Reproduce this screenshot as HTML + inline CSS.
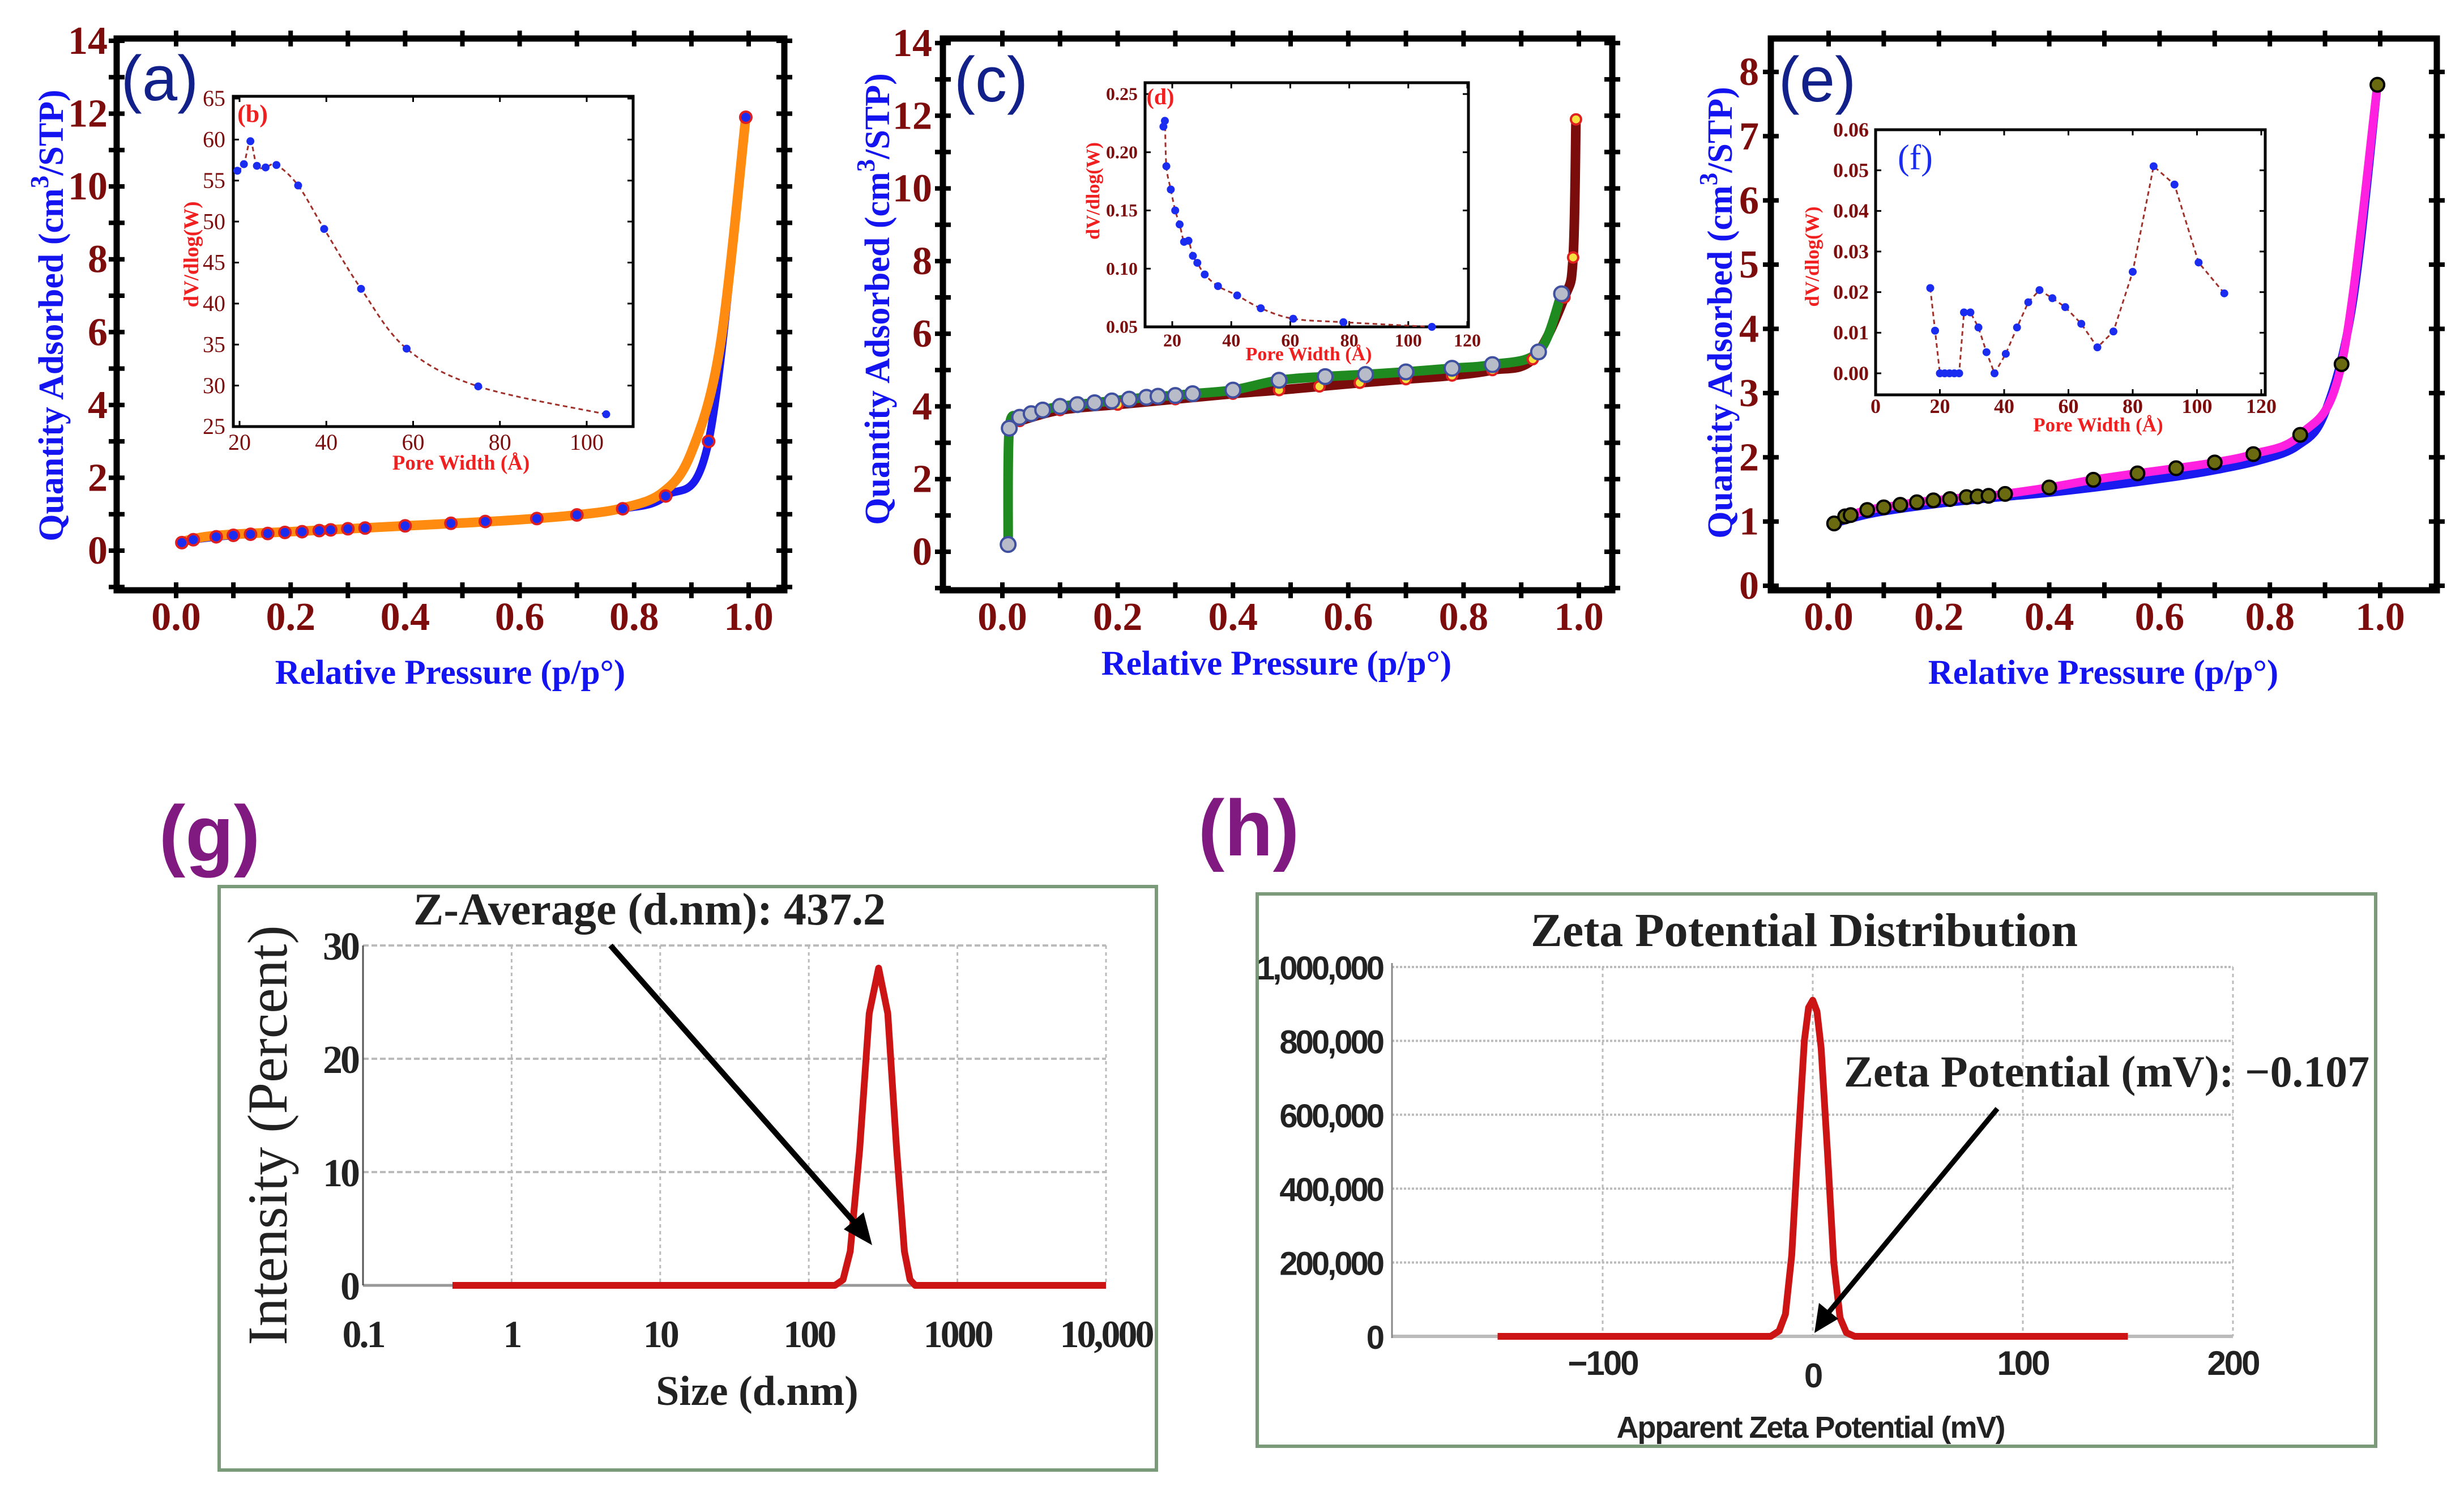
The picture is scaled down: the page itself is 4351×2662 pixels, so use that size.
<!DOCTYPE html>
<html><head><meta charset="utf-8">
<style>
html,body{margin:0;padding:0;background:#fff;}
svg{display:block;}
text{font-family:"Liberation Serif",serif;}
</style></head>
<body>
<svg id="fig" width="4351" height="2662" viewBox="0 0 4351 2662" xmlns="http://www.w3.org/2000/svg"></svg>
<script>
// ---------- DATA ----------
const aAdsX=[0.01,0.03,0.07,0.10,0.13,0.16,0.19,0.22,0.25,0.27,0.30,0.33,0.40,0.48,0.54,0.63,0.70,0.78,0.855,0.93,0.995];
const aAdsY=[0.22,0.30,0.38,0.42,0.45,0.47,0.50,0.52,0.55,0.57,0.60,0.62,0.68,0.75,0.80,0.88,0.98,1.15,1.50,3.00,11.9];
const aDesX=[0.01,0.05,0.10,0.20,0.30,0.40,0.50,0.60,0.70,0.78,0.85,0.90,0.95,0.995];
const aDesY=[0.25,0.38,0.45,0.52,0.60,0.68,0.76,0.85,0.98,1.17,1.60,2.70,5.60,11.9];
const bX=[19.5,21,22.5,24,26,28.5,33.5,39.5,48,58.5,75,104.5];
const bY=[56.2,57.0,59.8,56.8,56.6,56.9,54.4,49.1,41.8,34.5,29.9,26.5];
const cAdsX=[0.01,0.012,0.03,0.05,0.07,0.10,0.13,0.16,0.19,0.22,0.25,0.27,0.30,0.33,0.40,0.48,0.56,0.63,0.70,0.78,0.85,0.93,0.97];
const cAdsY=[0.2,3.4,3.7,3.8,3.9,4.0,4.05,4.1,4.15,4.2,4.25,4.28,4.3,4.35,4.45,4.72,4.82,4.88,4.95,5.05,5.15,5.5,7.1];
const cDesX=[0.03,0.10,0.20,0.30,0.40,0.48,0.55,0.62,0.70,0.78,0.85,0.92,0.975,0.99,0.995];
const cDesY=[3.6,3.9,4.05,4.2,4.35,4.45,4.55,4.65,4.75,4.85,5.0,5.3,7.0,8.1,11.9];
const dX=[17,17.5,18,19.5,21,22.5,24,25.5,27,28.5,31,35.5,42,50,61,78,108];
const dY=[0.222,0.227,0.188,0.168,0.150,0.138,0.123,0.124,0.111,0.105,0.095,0.085,0.077,0.066,0.057,0.054,0.050];
const eUpX=[0.01,0.03,0.04,0.07,0.10,0.13,0.16,0.19,0.22,0.25,0.27,0.29,0.32,0.40,0.48,0.56,0.63,0.70,0.77,0.855,0.93,0.995];
const eUpY=[0.97,1.08,1.10,1.18,1.22,1.26,1.30,1.33,1.35,1.38,1.39,1.40,1.43,1.53,1.65,1.75,1.83,1.92,2.05,2.35,3.45,7.8];
const eLoX=[0.01,0.05,0.10,0.20,0.30,0.40,0.50,0.63,0.70,0.78,0.85,0.90,0.95,0.995];
const eLoY=[0.97,1.07,1.16,1.28,1.37,1.45,1.55,1.70,1.80,1.95,2.18,2.70,4.40,7.8];
const fX=[17,18.5,20,21.5,23,24.5,26,27.5,29.5,32,34.5,37,40.5,44,47.5,51,55,59,64,69,74,80,86.5,93,100.5,108.5];
const fY=[0.021,0.0105,0,0,0,0,0,0.015,0.015,0.0113,0.0052,0,0.0048,0.0113,0.0175,0.0205,0.0185,0.0163,0.0122,0.0064,0.0103,0.025,0.051,0.0465,0.0273,0.0197];
const gSize=[0.4,150,170,190,220,255,295,340,390,440,480,520,10000];
const gInt=[0,0,0.5,3,12,24,28,24,12,3,0.5,0,0];
const gXTicks=["0.1","1","10","100","1000","10,000"];
const gYTicks=[0,10,20,30];
const hMV=[-150,-20,-16,-13,-10,-7,-4,-2,0,2,4,7,10,13,16,20,150];
const hCount=[0,0,15000,60000,220000,520000,800000,890000,910000,880000,780000,500000,200000,50000,10000,0,0];
const hXTicks=[-100,0,100,200];
const hYTicks=["0","200,000","400,000","600,000","800,000","1,000,000"];

// ---------- HELPERS ----------
const NS="http://www.w3.org/2000/svg";
const svg=document.getElementById('fig');
function el(tag,attrs,parent,txt){const e=document.createElementNS(NS,tag);for(const k in attrs)e.setAttribute(k,attrs[k]);if(txt!==undefined)e.textContent=txt;(parent||svg).appendChild(e);return e;}
function lin(d0,d1,r0,r1){return v=>r0+(v-d0)*(r1-r0)/(d1-d0);}
function smoothPath(pts){
  if(pts.length<2)return '';
  let d='M'+pts[0][0]+','+pts[0][1];
  for(let i=0;i<pts.length-1;i++){
    const p0=pts[i-1]||pts[i],p1=pts[i],p2=pts[i+1],p3=pts[i+2]||p2;
    const c1=[p1[0]+(p2[0]-p0[0])/6,p1[1]+(p2[1]-p0[1])/6];
    const c2=[p2[0]-(p3[0]-p1[0])/6,p2[1]-(p3[1]-p1[1])/6];
    d+=' C'+c1[0]+','+c1[1]+' '+c2[0]+','+c2[1]+' '+p2[0]+','+p2[1];
  }
  return d;
}
const DR='#7d0c0c', BL='#1414f0';

function mainPanel(o){
  const g=el('g',{});
  
  
  const sx=lin(0,1,o.x0,o.x1), sy=lin(0,o.yRef,o.y0,o.y1);
  for(let v=0;v<=1.0001;v+=0.1){const x=sx(v);
    el('line',{x1:x,y1:o.fb-14,x2:x,y2:o.fb+14,stroke:'#000','stroke-width':8},g);
    el('line',{x1:x,y1:o.ft-14,x2:x,y2:o.ft+14,stroke:'#000','stroke-width':8},g);}
  for(let v=0;v<=1.0001;v+=0.2){
    const t=el('text',{x:sx(v),y:1112,'text-anchor':'middle','font-size':70,'font-weight':'bold',fill:DR},g,v.toFixed(1));
    }
  for(let v=o.yMinTick;v<=o.yRef;v+=1){const y=sy(v);
    el('line',{x1:o.fl-14,y1:y,x2:o.fl+14,y2:y,stroke:'#000','stroke-width':8},g);
    el('line',{x1:o.fr-14,y1:y,x2:o.fr+14,y2:y,stroke:'#000','stroke-width':8},g);
    if(v>=0 && (v%o.yLabStep===0)){
      const t=el('text',{x:o.yLabX,y:y+23,'text-anchor':'end','font-size':70,'font-weight':'bold',fill:DR},g,String(v));
      }
  }
  const fr=el('rect',{x:o.fl,y:o.ft,width:o.fr-o.fl,height:o.fb-o.ft,fill:'none',stroke:'#000','stroke-width':11},g);
  
  o.series.forEach(s=>{
    const pts=s.x.map((v,i)=>[sx(v),sy(s.y[i])]);
    const p=el('path',{d:smoothPath(pts),fill:'none',stroke:s.color,'stroke-width':s.w,'stroke-linecap':'round','stroke-linejoin':'round'},g);
    
  });
  o.series.forEach(s=>{ if(!s.mk)return;
    s.x.forEach((v,i)=>{
      const c=el('circle',{cx:sx(v),cy:sy(s.y[i]),r:s.mr,fill:s.mk,stroke:s.ms,'stroke-width':4},g);
      });
  });
  const xt=el('text',{x:o.xtX,y:o.xtY+21,'text-anchor':'middle','font-size':61,'font-weight':'bold',fill:BL},g,'Relative Pressure (p/p°)');
  
  const yt=el('text',{x:0,y:0,'text-anchor':'middle','font-size':62,'font-weight':'bold',fill:BL,transform:`translate(${o.ytX+22},${o.ytY}) rotate(-90)`},g);
  
  el('tspan',{},yt,'Quantity Adsorbed (cm');
  el('tspan',{dy:-26,'font-size':45},yt,'3');
  el('tspan',{dy:26},yt,'/STP)');
  const pl=el('text',{x:o.lblX,y:o.lblY+40,'text-anchor':'middle','font-size':112,fill:'#12208a',style:'font-family:"Liberation Sans",sans-serif'},g,o.label);
  
}

function inset(o){
  const g=el('g',{});
  
  const sx=lin(o.xa,o.xb,o.px0,o.px1), sy=lin(o.ya,o.yb,o.py0,o.py1);
  el('rect',{x:o.fl,y:o.ft,width:o.fr-o.fl,height:o.fb-o.ft,fill:'#fff',stroke:'#000','stroke-width':5},g);
  o.xt.forEach(v=>{const x=sx(v);
    el('line',{x1:x,y1:o.fb,x2:x,y2:o.fb-10,stroke:'#000','stroke-width':3},g);
    el('line',{x1:x,y1:o.ft,x2:x,y2:o.ft+10,stroke:'#000','stroke-width':3},g);
    const t=el('text',{x:x,y:o.xlY+o.fs*0.33,'text-anchor':'middle','font-size':o.fs,'font-weight':o.fw,fill:DR},g,String(v));
    });
  o.yt.forEach(v=>{const y=sy(v);
    el('line',{x1:o.fl,y1:y,x2:o.fl+10,y2:y,stroke:'#000','stroke-width':3},g);
    el('line',{x1:o.fr,y1:y,x2:o.fr-10,y2:y,stroke:'#000','stroke-width':3},g);
    const t=el('text',{x:o.ylX,y:y+o.fs*0.33,'text-anchor':'end','font-size':o.fs,'font-weight':o.fw,fill:DR},g,v.toFixed(o.dec));
    });
  const pts=o.x.map((v,i)=>[sx(v),sy(o.y[i])]);
  const p=el('path',{d:o.smooth?smoothPath(pts):'M'+pts.map(q=>q.join(',')).join(' L'),fill:'none',stroke:'#a0302a','stroke-width':3,'stroke-dasharray':'8,6'},g);
  
  pts.forEach(q=>{const c=el('circle',{cx:q[0],cy:q[1],r:7,fill:'#1a2cf0'},g);
    });
  const xt=el('text',{x:o.xtX,y:o.xtY+o.tfs*0.33,'text-anchor':'middle','font-size':o.tfs,'font-weight':'bold',fill:'#f02020'},g,'Pore Width (Å)');
  
  const yt=el('text',{x:0,y:0,'text-anchor':'middle','font-size':o.tfs,'font-weight':'bold',fill:'#f02020',transform:`translate(${o.ytX+o.tfs*0.33},${o.ytY}) rotate(-90)`},g,'dV/dlog(W)');
  
  const lb=el('text',{x:o.lX,y:o.lY+o.lfs*0.35,'text-anchor':'middle','font-size':o.lfs,'font-weight':o.lfw,fill:o.lc},g,o.label);
  
}

// ---------- PANELS ----------
mainPanel({name:'panel-a',fl:206,fr:1385,ft:68,fb:1042,x0:311,x1:1322,y0:972,y1:72,yRef:14,yMinTick:-1,yLabStep:2,yLabX:190,
  xtX:795,xtY:1186,ytX:89,ytY:557,label:'(a)',lblX:282,lblY:137,
  series:[{name:'adsorption-curve',x:aAdsX,y:aAdsY,color:'#1a1af0',w:14,mk:'#1a2cf0',ms:'#e02020',mr:10},
          {name:'desorption-curve',x:aDesX,y:aDesY,color:'#ff8c10',w:17}]});
inset({name:'inset-b',fl:412,fr:1118,ft:170,fb:753,xa:20,xb:100,px0:423,px1:1036,ya:25,yb:65,py0:753,py1:174,
  xt:[20,40,60,80,100],yt:[25,30,35,40,45,50,55,60,65],dec:0,fs:40,fw:'normal',xlY:781,ylX:398,x:bX,y:bY,smooth:true,
  xtX:814,xtY:817,ytX:338,ytY:449,tfs:37,label:'(b)',lX:446,lY:200,lfs:44,lfw:'bold',lc:'#f02020'});

mainPanel({name:'panel-c',fl:1665,fr:2847,ft:68,fb:1042,x0:1770,x1:2788,y0:974,y1:76,yRef:14,yMinTick:-1,yLabStep:2,yLabX:1646,
  xtX:2254,xtY:1170,ytX:1548,ytY:528,label:'(c)',lblX:1750,lblY:139,
  series:[{name:'desorption-curve',x:cDesX,y:cDesY,color:'#7a0c0c',w:17,mk:'#f5e040',ms:'#e02020',mr:9},
          {name:'adsorption-curve',x:cAdsX,y:cAdsY,color:'#1f8a1f',w:17,mk:'#b8bcc8',ms:'#4050a0',mr:13}]});
inset({name:'inset-d',fl:2022,fr:2593,ft:146,fb:577,xa:20,xb:120,px0:2070,px1:2591,ya:0.05,yb:0.25,py0:577,py1:166,
  xt:[20,40,60,80,100,120],yt:[0.05,0.10,0.15,0.20,0.25],dec:2,fs:32,fw:'bold',xlY:601,ylX:2009,x:dX,y:dY,smooth:true,
  xtX:2311,xtY:625,ytX:1930,ytY:337,tfs:34,label:'(d)',lX:2049,lY:170,lfs:40,lfw:'bold',lc:'#f02020'});

mainPanel({name:'panel-e',fl:3127,fr:4303,ft:68,fb:1042,x0:3229,x1:4203,y0:1034,y1:127,yRef:8,yMinTick:0,yLabStep:1,yLabX:3106,
  xtX:3714,xtY:1186,ytX:3036,ytY:552,label:'(e)',lblX:3209,lblY:139,
  series:[{name:'lower-curve',x:eLoX,y:eLoY,color:'#1a1af0',w:15},
          {name:'upper-curve',x:eUpX,y:eUpY,color:'#ff20e0',w:15,mk:'#6a6a10',ms:'#000',mr:12}]});
inset({name:'inset-f',fl:3312,fr:4000,ft:229,fb:697,xa:0,xb:120,px0:3312,px1:3993,ya:0,yb:0.06,py0:659,py1:229,
  xt:[0,20,40,60,80,100,120],yt:[0,0.01,0.02,0.03,0.04,0.05,0.06],dec:2,fs:36,fw:'bold',xlY:717,ylX:3300,x:fX,y:fY,smooth:false,
  xtX:3705,xtY:750,ytX:3200,ytY:453,tfs:35,label:'(f)',lX:3382,lY:277,lfs:62,lfw:'normal',lc:'#1a2cf0'});

// ---------- (g) ----------
(function(){
  const g=el('g',{});
  
  const pl=el('text',{x:370,y:1520,'text-anchor':'middle','font-size':140,'font-weight':'bold',fill:'#801a80',style:'font-family:"Liberation Sans",sans-serif'},g,'(g)');
  
  const box=el('rect',{x:387,y:1565,width:1655,height:1030,fill:'#fff',stroke:'#7a9a7a','stroke-width':6},g);
  
  const sx=v=>641+Math.log10(v/0.1)*262.4, sy=lin(0,30,2269,1669);
  gXTicks.forEach((t,i)=>{const x=641+i*262.4;
    el('line',{x1:x,y1:1669,x2:x,y2:2269,stroke:'#bbb','stroke-width':3,'stroke-dasharray':'6,6'},g);
    const tx=el('text',{x:x,y:2378,'text-anchor':'middle','font-size':68,'font-weight':'bold',fill:'#222','letter-spacing':-4},g,t);
    });
  gYTicks.forEach(v=>{const y=sy(v);
    el('line',{x1:641,y1:y,x2:1953,y2:y,stroke:v===0?'#999':'#bbb','stroke-width':v===0?5:4,'stroke-dasharray':v===0?'':'10,5'},g);
    const t=el('text',{x:632,y:y+25,'text-anchor':'end','font-size':70,'font-weight':'bold',fill:'#222','letter-spacing':-4},g,String(v));
    });
  el('line',{x1:641,y1:1669,x2:641,y2:2269,stroke:'#555','stroke-width':3},g);
  const pts=gSize.map((v,i)=>[sx(v),sy(gInt[i])]);
  const p=el('path',{d:'M'+pts.map(q=>q.join(',')).join(' L'),fill:'none',stroke:'#cc1414','stroke-width':12,'stroke-linejoin':'round'},g);
  
  const yt=el('text',{x:0,y:0,'text-anchor':'middle','font-size':100,fill:'#222',transform:'translate(506,2004) rotate(-90)'},g,'Intensity (Percent)');
  
  const xt=el('text',{x:1337,y:2480,'text-anchor':'middle','font-size':74,'font-weight':'bold',fill:'#222'},g,'Size (d.nm)');
  
  const an=el('text',{x:1147,y:1632,'text-anchor':'middle','font-size':80,'font-weight':'bold',fill:'#222'},g,'Z-Average (d.nm): 437.2');
  
  const ar=el('line',{x1:1078,y1:1669,x2:1515,y2:2165,stroke:'#000','stroke-width':10},g);
  
  el('polygon',{points:'1540,2198 1490,2170 1525,2140',fill:'#000'},g);
})();

// ---------- (h) ----------
(function(){
  const g=el('g',{});
  
  const pl=el('text',{x:2205,y:1510,'text-anchor':'middle','font-size':140,'font-weight':'bold',fill:'#801a80',style:'font-family:"Liberation Sans",sans-serif'},g,'(h)');
  
  const box=el('rect',{x:2220,y:1578,width:1975,height:975,fill:'#fff',stroke:'#7a9a7a','stroke-width':6},g);
  
  const sx=lin(0,100,3201,3572), sy=lin(0,1000000,2359,1707);
  hXTicks.forEach(v=>{const x=sx(v);
    el('line',{x1:x,y1:1707,x2:x,y2:2359,stroke:'#bbb','stroke-width':3,'stroke-dasharray':'6,6'},g);
    const t=el('text',{x:x,y:(v===0?2427:2405)+22,'text-anchor':'middle','font-size':60,'font-weight':'bold',fill:'#222',style:'font-family:"Liberation Sans",sans-serif','letter-spacing':-3},g,v<0?'−'+Math.abs(v):String(v));
    });
  hYTicks.forEach((t,i)=>{const y=sy(i*200000);
    el('line',{x1:2458,y1:y,x2:3943,y2:y,stroke:'#bbb','stroke-width':i===0?6:4,'stroke-dasharray':i===0?'':'4,3'},g);
    const tx=el('text',{x:2441,y:y+22,'text-anchor':'end','font-size':58,'font-weight':'bold',fill:'#222',style:'font-family:"Liberation Sans",sans-serif','letter-spacing':-4},g,t);
    });
  el('line',{x1:2458,y1:1700,x2:2458,y2:2362,stroke:'#888','stroke-width':3},g);
  const pts=hMV.map((v,i)=>[sx(v),sy(hCount[i])]);
  const p=el('path',{d:'M'+pts.map(q=>q.join(',')).join(' L'),fill:'none',stroke:'#cc1414','stroke-width':12,'stroke-linejoin':'round'},g);
  
  const tt=el('text',{x:3186,y:1670,'text-anchor':'middle','font-size':84,'font-weight':'bold',fill:'#222'},g,'Zeta Potential Distribution');
  
  const xt=el('text',{x:3197,y:2538,'text-anchor':'middle','font-size':54,'font-weight':'bold',fill:'#222',style:'font-family:"Liberation Sans",sans-serif','letter-spacing':-2},g,'Apparent Zeta Potential (mV)');
  
  const an=el('text',{x:3720,y:1918,'text-anchor':'middle','font-size':78,'font-weight':'bold',fill:'#222'},g,'Zeta Potential (mV): −0.107');
  
  const ar=el('line',{x1:3527,y1:1957,x2:3228,y2:2318,stroke:'#000','stroke-width':9},g);
  
  el('polygon',{points:'3204,2353 3212,2300 3246,2328',fill:'#000'},g);
})();
</script>
</body></html>
